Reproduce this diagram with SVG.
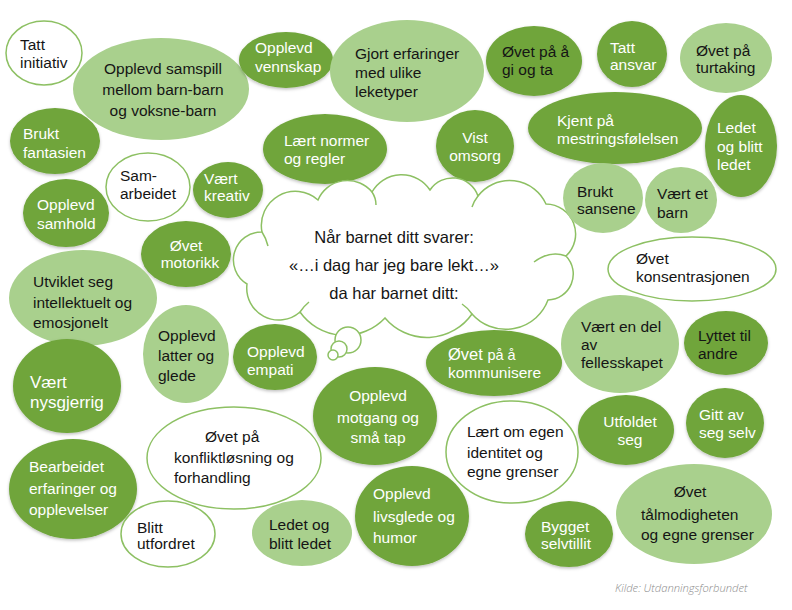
<svg xmlns="http://www.w3.org/2000/svg" width="792" height="610" viewBox="0 0 792 610">
<defs>
<filter id="sh" x="-10%" y="-10%" width="120%" height="125%">
<feDropShadow dx="0" dy="1.5" stdDeviation="1.5" flood-color="#000" flood-opacity="0.25"/>
</filter>
<style>
text{font-family:"Liberation Sans",Arial,sans-serif;font-size:15.5px}
.dk{fill:#6fa53b;filter:url(#sh)}
.lt{fill:#a9d08d}
.wh{fill:#fff;stroke:#8dc063;stroke-width:1.5}
.tw{fill:#fff}
.tb{fill:#151515}
.c{text-anchor:middle}
.cl{fill:#fff;stroke:#8dc063;stroke-width:1.5}
.curl{fill:none;stroke:#8dc063;stroke-width:1.5}
</style>
</defs>
<rect width="792" height="610" fill="#fff"/>
<g id="connectors"></g>

<g id="n-tatt-initiativ"><ellipse class="wh" cx="44" cy="53" rx="38" ry="32"/><text class="tb"><tspan x="20" y="50">Tatt</tspan><tspan x="20" y="68">initiativ</tspan></text></g>
<g id="n-samspill"><ellipse class="lt" cx="161" cy="89" rx="88" ry="51"/><text class="tb c"><tspan x="163" y="74">Opplevd samspill</tspan><tspan x="163" y="95">mellom barn-barn</tspan><tspan x="163" y="116">og voksne-barn</tspan></text></g>
<g id="n-vennskap"><ellipse class="dk" cx="286" cy="60" rx="47" ry="28"/><text class="tw"><tspan x="255" y="53">Opplevd</tspan><tspan x="255" y="72">vennskap</tspan></text></g>
<g id="n-gjort"><ellipse class="lt" cx="407" cy="71" rx="77" ry="51"/><text class="tb"><tspan x="355" y="59">Gjort erfaringer</tspan><tspan x="355" y="78">med ulike</tspan><tspan x="355" y="97">leketyper</tspan></text></g>
<g id="n-gi-og-ta"><ellipse class="dk" cx="534" cy="61" rx="48" ry="35"/><text class="tb"><tspan x="502" y="57">Øvet på å</tspan><tspan x="502" y="75">gi og ta</tspan></text></g>
<g id="n-tatt-ansvar"><ellipse class="dk" cx="632" cy="54" rx="35" ry="33"/><text class="tw"><tspan x="610" y="53">Tatt</tspan><tspan x="610" y="70">ansvar</tspan></text></g>
<g id="n-turtaking"><ellipse class="lt" cx="726" cy="58" rx="46" ry="35"/><text class="tb"><tspan x="696" y="56">Øvet på</tspan><tspan x="696" y="73">turtaking</tspan></text></g>
<g id="n-kjent"><ellipse class="dk" cx="615" cy="128" rx="87" ry="36"/><text class="tw"><tspan x="557" y="126">Kjent på</tspan><tspan x="557" y="144">mestringsfølelsen</tspan></text></g>
<g id="n-ledet1"><ellipse class="dk" cx="741" cy="146" rx="36" ry="51"/><text class="tw"><tspan x="717" y="133">Ledet</tspan><tspan x="717" y="152">og blitt</tspan><tspan x="717" y="170">ledet</tspan></text></g>
<g id="n-vist-omsorg"><ellipse class="dk" cx="475" cy="146" rx="39" ry="36"/><text class="tw c"><tspan x="475" y="143">Vist</tspan><tspan x="475" y="161">omsorg</tspan></text></g>
<g id="n-normer"><ellipse class="dk" cx="325" cy="149" rx="62" ry="35"/><text class="tw"><tspan x="284" y="146">Lært normer</tspan><tspan x="284" y="164">og regler</tspan></text></g>
<g id="n-fantasien"><ellipse class="dk" cx="55" cy="141" rx="45" ry="33"/><text class="tw"><tspan x="23" y="139">Brukt</tspan><tspan x="23" y="158">fantasien</tspan></text></g>
<g id="n-samarbeidet"><ellipse class="wh" cx="148" cy="187" rx="42" ry="34"/><text class="tb"><tspan x="120" y="181">Sam-</tspan><tspan x="120" y="199">arbeidet</tspan></text></g>
<g id="n-kreativ"><ellipse class="dk" cx="228" cy="190" rx="35" ry="28"/><text class="tw"><tspan x="204" y="184">Vært</tspan><tspan x="204" y="201">kreativ</tspan></text></g>
<g id="n-samhold"><ellipse class="dk" cx="66" cy="213" rx="43" ry="34"/><text class="tw"><tspan x="37" y="210">Opplevd</tspan><tspan x="37" y="229">samhold</tspan></text></g>
<g id="n-motorikk"><ellipse class="dk" cx="186" cy="254" rx="45" ry="33"/><text class="tw c"><tspan x="186" y="251">Øvet</tspan><tspan x="190" y="268">motorikk</tspan></text></g>
<g id="n-utviklet"><ellipse class="lt" cx="83" cy="298" rx="74" ry="48"/><text class="tb"><tspan x="33" y="287">Utviklet seg</tspan><tspan x="33" y="308">intellektuelt og</tspan><tspan x="33" y="328">emosjonelt</tspan></text></g>
<g id="n-latter"><ellipse class="lt" cx="186" cy="354" rx="43" ry="49"/><text class="tb"><tspan x="158" y="341">Opplevd</tspan><tspan x="158" y="361">latter og</tspan><tspan x="158" y="381">glede</tspan></text></g>
<g id="n-empati"><ellipse class="dk" cx="275" cy="357" rx="42" ry="33"/><text class="tw"><tspan x="247" y="357">Opplevd</tspan><tspan x="247" y="375">empati</tspan></text></g>

<g id="n-cloud">
<path class="cl" d="M247,284 A28,28 0 0 1 262,232 A34,34 0 0 1 318,200 A32,32 0 0 1 372,192 A34,34 0 0 1 430,190 A27,27 0 0 1 478,196 A40,40 0 0 1 546,204 A30,30 0 0 1 566,256 A26,26 0 0 1 548,300 A45,45 0 0 1 472,314 A55,55 0 0 1 385,318 A55,55 0 0 1 300,312 A32,32 0 0 1 247,284 Z"/>
<path class="curl" d="M262,232 Q266,238 268,246 M372,192 Q376,198 376,205 M478,196 Q474,201 472,207 M566,256 Q550,250 534,262 M472,314 Q468,308 462,304 M300,312 Q304,306 309,302"/>
<circle class="cl" cx="348" cy="340" r="13"/>
<circle class="cl" cx="339" cy="349" r="8"/>
<circle class="cl" cx="333" cy="355" r="5"/>
<text class="tb c" style="font-size:16.5px"><tspan x="394" y="243">Når barnet ditt svarer:</tspan><tspan x="394" y="271">«…i dag har jeg bare lekt…»</tspan><tspan x="394" y="299">da har barnet ditt:</tspan></text>
</g>

<g id="n-sansene"><ellipse class="lt" cx="603" cy="198" rx="40" ry="35"/><text class="tb"><tspan x="577" y="197">Brukt</tspan><tspan x="577" y="214">sansene</tspan></text></g>
<g id="n-vaert-barn"><ellipse class="lt" cx="681" cy="200" rx="36" ry="33"/><text class="tb"><tspan x="657" y="199">Vært et</tspan><tspan x="657" y="218">barn</tspan></text></g>
<g id="n-konsentrasjon"><ellipse class="wh" cx="692" cy="269" rx="84" ry="32"/><text class="tb"><tspan x="636" y="264">Øvet</tspan><tspan x="636" y="282">konsentrasjonen</tspan></text></g>
<g id="n-fellesskapet"><ellipse class="lt" cx="620" cy="344" rx="59" ry="49"/><text class="tb"><tspan x="581" y="332">Vært en del</tspan><tspan x="581" y="350">av</tspan><tspan x="581" y="368">fellesskapet</tspan></text></g>
<g id="n-lyttet"><ellipse class="dk" cx="726" cy="343" rx="42" ry="32"/><text class="tb"><tspan x="698" y="341">Lyttet til</tspan><tspan x="698" y="359">andre</tspan></text></g>
<g id="n-kommunisere"><ellipse class="dk" cx="494" cy="363" rx="68" ry="33"/><text class="tw"><tspan x="448" y="360" style="font-size:16.5px">Øvet <tspan style="font-size:14.5px">på å</tspan></tspan><tspan x="448" y="378">kommunisere</tspan></text></g>
<g id="n-nysgjerrig"><ellipse class="dk" cx="67" cy="386" rx="54" ry="47"/><text class="tw" style="font-size:17px"><tspan x="30" y="388">Vært</tspan><tspan x="30" y="408">nysgjerrig</tspan></text></g>
<g id="n-bearbeidet"><ellipse class="dk" cx="73" cy="489" rx="64" ry="50"/><text class="tw"><tspan x="29" y="472">Bearbeidet</tspan><tspan x="29" y="494">erfaringer og</tspan><tspan x="29" y="515">opplevelser</tspan></text></g>
<g id="n-konflikt"><ellipse class="wh" cx="234" cy="458" rx="87" ry="51"/><text class="tb"><tspan x="205" y="442">Øvet på</tspan><tspan x="174" y="463">konfliktløsning og</tspan><tspan x="174" y="483">forhandling</tspan></text></g>
<g id="n-utfordret"><ellipse class="wh" cx="168" cy="534" rx="47" ry="33"/><text class="tb"><tspan x="137" y="533">Blitt</tspan><tspan x="137" y="549">utfordret</tspan></text></g>
<g id="n-ledet2"><ellipse class="lt" cx="302" cy="533" rx="50" ry="33"/><text class="tb"><tspan x="269" y="530">Ledet og</tspan><tspan x="269" y="549">blitt ledet</tspan></text></g>
<g id="n-motgang"><ellipse class="dk" cx="375" cy="416" rx="62" ry="49"/><text class="tw c"><tspan x="378" y="401">Opplevd</tspan><tspan x="378" y="423">motgang og</tspan><tspan x="378" y="443">små tap</tspan></text></g>
<g id="n-identitet"><ellipse class="wh" cx="512" cy="452" rx="66" ry="51"/><text class="tb"><tspan x="467" y="437">Lært om egen</tspan><tspan x="467" y="458">identitet og</tspan><tspan x="467" y="477">egne grenser</tspan></text></g>
<g id="n-livsglede"><ellipse class="dk" cx="412" cy="516" rx="57" ry="50"/><text class="tw"><tspan x="373" y="499">Opplevd</tspan><tspan x="373" y="522">livsglede og</tspan><tspan x="373" y="543">humor</tspan></text></g>
<g id="n-utfoldet"><ellipse class="dk" cx="626" cy="430" rx="48" ry="35"/><text class="tw c"><tspan x="630" y="427">Utfoldet</tspan><tspan x="630" y="445">seg</tspan></text></g>
<g id="n-gitt"><ellipse class="dk" cx="725" cy="423" rx="39" ry="35"/><text class="tw"><tspan x="699" y="420">Gitt av</tspan><tspan x="699" y="438">seg selv</tspan></text></g>
<g id="n-talmodighet"><ellipse class="lt" cx="694" cy="514" rx="78" ry="50"/><text class="tb"><tspan x="690" y="497" text-anchor="middle">Øvet</tspan><tspan x="641" y="520">tålmodigheten</tspan><tspan x="641" y="540">og egne grenser</tspan></text></g>
<g id="n-selvtillit"><ellipse class="dk" cx="569" cy="534" rx="44" ry="33"/><text class="tw"><tspan x="541" y="532">Bygget</tspan><tspan x="541" y="549">selvtillit</tspan></text></g>

<text id="source" x="615" y="592" style="font-family:'Open Sans','Liberation Sans',sans-serif;font-size:11.2px;font-style:italic;font-weight:300;fill:#8c8c8c">Kilde: Utdanningsforbundet</text>
</svg>
